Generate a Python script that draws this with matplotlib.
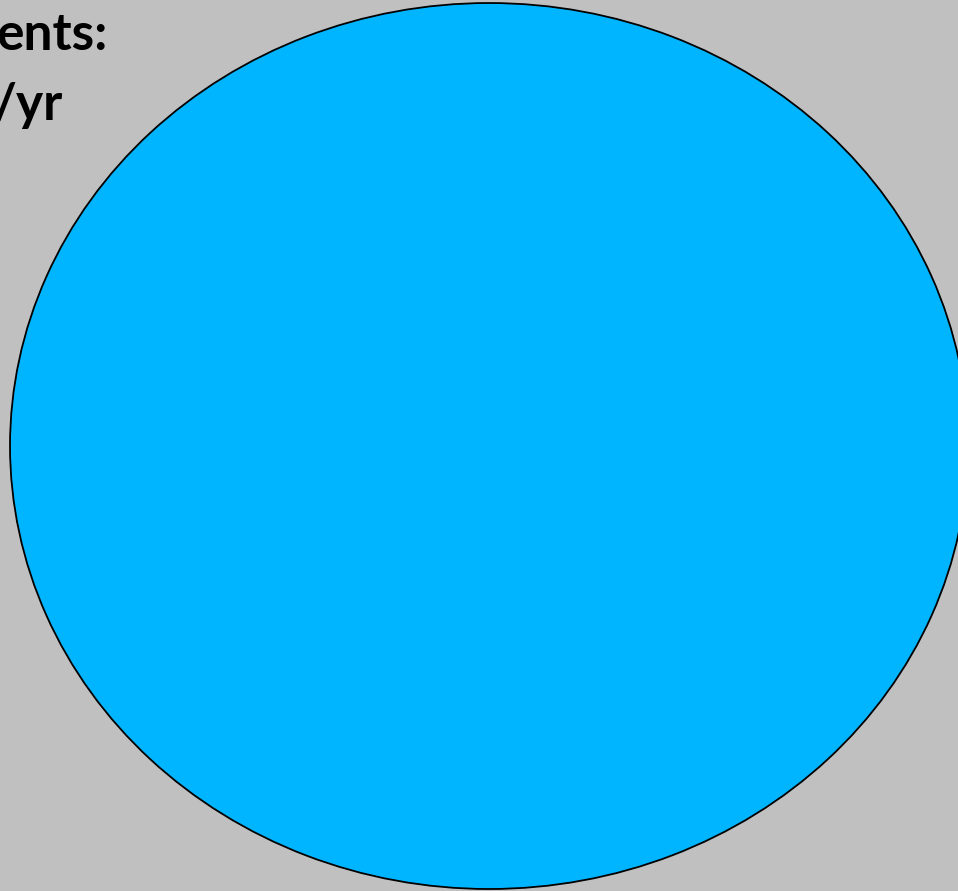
import matplotlib
matplotlib.use("Agg")
import matplotlib.pyplot as plt

# Single-slice pie (the whole is one category)
valores = [100]
cores = ["#00B5FF"]
linha1 = "ents:"
linha2 = "/yr"

fig = plt.figure(figsize=(9.58, 8.91), dpi=100)
fig.patch.set_facecolor("#C0C0C0")
ax = fig.add_axes([0, 0, 1, 1])
ax.set_facecolor("#C0C0C0")

ax.pie(valores, colors=cores, startangle=90, counterclock=False,
       wedgeprops=dict(edgecolor="black", linewidth=1.3))

# pie forces a circle; the reference is slightly stretched, so free the aspect
ax.set_aspect("auto")
ax.set_xlim(-1.0209, 0.979)
ax.set_ylim(-1.0045, 1.0068)
ax.axis("off")

fig.text(-4 / 958, 1 - 50 / 891, linha1, fontsize=37, fontweight="bold",
         family="Lato", ha="left", va="baseline", color="black")
fig.text(63 / 958, 1 - 120 / 891, linha2, fontsize=37, fontweight="bold",
         family="Lato", ha="right", va="baseline", color="black")

fig.savefig("out.png", dpi=100, facecolor=fig.get_facecolor())
